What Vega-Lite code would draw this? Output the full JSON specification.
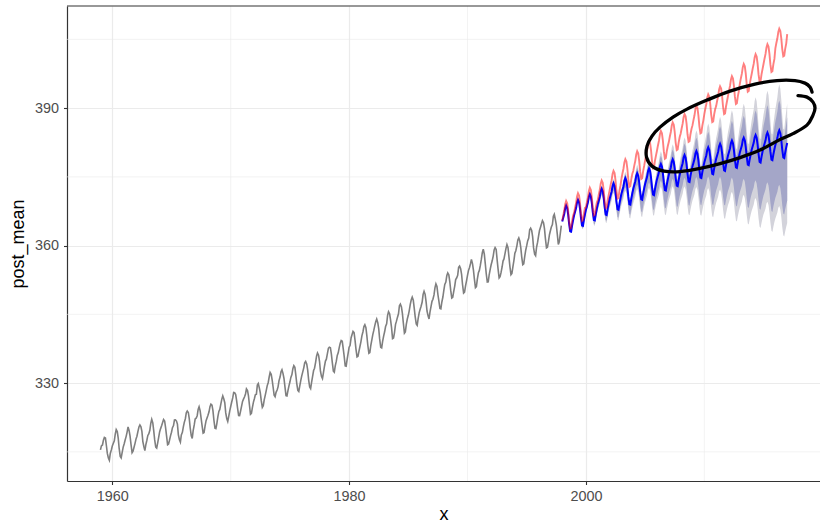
{
  "$schema": "https://vega.github.io/schema/vega-lite/v6.json",
  "usermeta": {"embedOptions": {"actions": false}},
  "width": 753,
  "height": 475,
  "autosize": {"type": "none"},
  "padding": {"left": 67, "top": 6, "right": 0, "bottom": 44},
  "background": "#ffffff",
  "config": {"view": {"stroke": null}, "font": "Liberation Sans"},
  "resolve": {"axis": {"x": "independent", "y": "independent"}},
  "datasets": {
    "gridx": [{"g": 1970}, {"g": 1990}, {"g": 2010}],
    "gridy": [{"g": 315}, {"g": 345}, {"g": 375}, {"g": 405}],
    "ell": [
      {"o":1,"x":2017.91,"y":392.73},{"o":2,"x":2018.67,"y":392.40},{"o":3,"x":2019.18,"y":391.31},{"o":4,"x":2019.35,"y":390.00},
      {"o":5,"x":2019.18,"y":388.47},{"o":6,"x":2018.67,"y":386.29},{"o":7,"x":2017.49,"y":384.44},{"o":8,"x":2016.22,"y":382.91},
      {"o":9,"x":2014.70,"y":380.84},{"o":10,"x":2013.02,"y":379.20},{"o":11,"x":2011.33,"y":377.89},{"o":12,"x":2009.64,"y":376.84},
      {"o":13,"x":2007.95,"y":376.14},{"o":14,"x":2006.60,"y":376.25},{"o":15,"x":2005.58,"y":377.34},{"o":16,"x":2005.12,"y":379.31},
      {"o":17,"x":2005.16,"y":381.71},{"o":18,"x":2005.58,"y":383.89},{"o":19,"x":2006.26,"y":385.85},{"o":20,"x":2007.36,"y":388.04},
      {"o":21,"x":2008.54,"y":389.78},{"o":22,"x":2010.23,"y":391.75},{"o":23,"x":2012.17,"y":393.71},{"o":24,"x":2014.28,"y":395.24},
      {"o":25,"x":2016.14,"y":396.00},{"o":26,"x":2017.66,"y":396.00},{"o":27,"x":2018.50,"y":395.45},{"o":28,"x":2018.93,"y":394.58},
      {"o":29,"x":2019.10,"y":393.49}
    ],
    "co2": [
      {"x":1959.00,"v":315.42},{"x":1959.08,"v":316.31},{"x":1959.17,"v":316.50},{"x":1959.25,"v":317.56},{"x":1959.33,"v":318.13},{"x":1959.42,"v":318.00},{"x":1959.50,"v":316.39},{"x":1959.58,"v":314.65},{"x":1959.67,"v":313.68},{"x":1959.75,"v":313.18},{"x":1959.83,"v":314.66},{"x":1959.92,"v":315.43},
      {"x":1960.00,"v":316.27},{"x":1960.08,"v":316.81},{"x":1960.17,"v":317.42},{"x":1960.25,"v":318.87},{"x":1960.33,"v":319.87},{"x":1960.42,"v":319.43},{"x":1960.50,"v":318.01},{"x":1960.58,"v":315.74},{"x":1960.67,"v":314.00},{"x":1960.75,"v":313.68},{"x":1960.83,"v":314.84},{"x":1960.92,"v":316.03},
      {"x":1961.00,"v":316.73},{"x":1961.08,"v":317.54},{"x":1961.17,"v":318.38},{"x":1961.25,"v":319.31},{"x":1961.33,"v":320.42},{"x":1961.42,"v":319.61},{"x":1961.50,"v":318.42},{"x":1961.58,"v":316.63},{"x":1961.67,"v":314.83},{"x":1961.75,"v":315.16},{"x":1961.83,"v":315.94},{"x":1961.92,"v":316.85},
      {"x":1962.00,"v":317.78},{"x":1962.08,"v":318.40},{"x":1962.17,"v":319.53},{"x":1962.25,"v":320.42},{"x":1962.33,"v":320.85},{"x":1962.42,"v":320.45},{"x":1962.50,"v":319.45},{"x":1962.58,"v":317.25},{"x":1962.67,"v":316.11},{"x":1962.75,"v":315.27},{"x":1962.83,"v":316.53},{"x":1962.92,"v":317.53},
      {"x":1963.00,"v":318.58},{"x":1963.08,"v":318.92},{"x":1963.17,"v":319.70},{"x":1963.25,"v":321.22},{"x":1963.33,"v":322.08},{"x":1963.42,"v":321.31},{"x":1963.50,"v":319.58},{"x":1963.58,"v":317.61},{"x":1963.67,"v":316.05},{"x":1963.75,"v":315.83},{"x":1963.83,"v":316.91},{"x":1963.92,"v":318.20},
      {"x":1964.00,"v":319.41},{"x":1964.08,"v":320.07},{"x":1964.17,"v":320.74},{"x":1964.25,"v":321.40},{"x":1964.33,"v":322.06},{"x":1964.42,"v":321.73},{"x":1964.50,"v":320.27},{"x":1964.58,"v":318.54},{"x":1964.67,"v":316.54},{"x":1964.75,"v":316.71},{"x":1964.83,"v":317.53},{"x":1964.92,"v":318.55},
      {"x":1965.00,"v":319.27},{"x":1965.08,"v":320.28},{"x":1965.17,"v":320.73},{"x":1965.25,"v":321.97},{"x":1965.33,"v":322.00},{"x":1965.42,"v":321.71},{"x":1965.50,"v":321.05},{"x":1965.58,"v":318.71},{"x":1965.67,"v":317.66},{"x":1965.75,"v":317.14},{"x":1965.83,"v":318.70},{"x":1965.92,"v":319.25},
      {"x":1966.00,"v":320.46},{"x":1966.08,"v":321.43},{"x":1966.17,"v":322.23},{"x":1966.25,"v":323.54},{"x":1966.33,"v":323.91},{"x":1966.42,"v":323.59},{"x":1966.50,"v":322.24},{"x":1966.58,"v":320.20},{"x":1966.67,"v":318.48},{"x":1966.75,"v":317.94},{"x":1966.83,"v":319.63},{"x":1966.92,"v":320.87},
      {"x":1967.00,"v":322.17},{"x":1967.08,"v":322.34},{"x":1967.17,"v":322.88},{"x":1967.25,"v":324.25},{"x":1967.33,"v":324.83},{"x":1967.42,"v":323.93},{"x":1967.50,"v":322.38},{"x":1967.58,"v":320.76},{"x":1967.67,"v":319.10},{"x":1967.75,"v":319.24},{"x":1967.83,"v":320.56},{"x":1967.92,"v":321.80},
      {"x":1968.00,"v":322.40},{"x":1968.08,"v":322.99},{"x":1968.17,"v":323.73},{"x":1968.25,"v":324.86},{"x":1968.33,"v":325.40},{"x":1968.42,"v":325.20},{"x":1968.50,"v":323.98},{"x":1968.58,"v":321.95},{"x":1968.67,"v":320.18},{"x":1968.75,"v":320.09},{"x":1968.83,"v":321.16},{"x":1968.92,"v":322.74},
      {"x":1969.00,"v":323.83},{"x":1969.08,"v":324.26},{"x":1969.17,"v":325.47},{"x":1969.25,"v":326.50},{"x":1969.33,"v":327.21},{"x":1969.42,"v":326.54},{"x":1969.50,"v":325.72},{"x":1969.58,"v":323.50},{"x":1969.67,"v":322.22},{"x":1969.75,"v":321.62},{"x":1969.83,"v":322.69},{"x":1969.92,"v":323.95},
      {"x":1970.00,"v":324.89},{"x":1970.08,"v":325.82},{"x":1970.17,"v":326.77},{"x":1970.25,"v":327.97},{"x":1970.33,"v":327.91},{"x":1970.42,"v":327.50},{"x":1970.50,"v":326.18},{"x":1970.58,"v":324.53},{"x":1970.67,"v":322.93},{"x":1970.75,"v":322.90},{"x":1970.83,"v":323.85},{"x":1970.92,"v":324.96},
      {"x":1971.00,"v":326.01},{"x":1971.08,"v":326.51},{"x":1971.17,"v":327.01},{"x":1971.25,"v":327.62},{"x":1971.33,"v":328.76},{"x":1971.42,"v":328.40},{"x":1971.50,"v":327.20},{"x":1971.58,"v":325.27},{"x":1971.67,"v":323.20},{"x":1971.75,"v":323.40},{"x":1971.83,"v":324.63},{"x":1971.92,"v":325.85},
      {"x":1972.00,"v":326.60},{"x":1972.08,"v":327.47},{"x":1972.17,"v":327.58},{"x":1972.25,"v":329.56},{"x":1972.33,"v":329.90},{"x":1972.42,"v":328.92},{"x":1972.50,"v":327.88},{"x":1972.58,"v":326.16},{"x":1972.67,"v":324.68},{"x":1972.75,"v":325.04},{"x":1972.83,"v":326.34},{"x":1972.92,"v":327.39},
      {"x":1973.00,"v":328.37},{"x":1973.08,"v":329.40},{"x":1973.17,"v":330.14},{"x":1973.25,"v":331.33},{"x":1973.33,"v":332.31},{"x":1973.42,"v":331.90},{"x":1973.50,"v":330.70},{"x":1973.58,"v":329.15},{"x":1973.67,"v":327.35},{"x":1973.75,"v":327.02},{"x":1973.83,"v":327.99},{"x":1973.92,"v":328.48},
      {"x":1974.00,"v":329.18},{"x":1974.08,"v":330.55},{"x":1974.17,"v":331.32},{"x":1974.25,"v":332.48},{"x":1974.33,"v":332.92},{"x":1974.42,"v":332.08},{"x":1974.50,"v":331.01},{"x":1974.58,"v":329.23},{"x":1974.67,"v":327.27},{"x":1974.75,"v":327.21},{"x":1974.83,"v":328.29},{"x":1974.92,"v":329.41},
      {"x":1975.00,"v":330.23},{"x":1975.08,"v":331.25},{"x":1975.17,"v":331.87},{"x":1975.25,"v":333.14},{"x":1975.33,"v":333.80},{"x":1975.42,"v":333.43},{"x":1975.50,"v":331.73},{"x":1975.58,"v":329.90},{"x":1975.67,"v":328.40},{"x":1975.75,"v":328.17},{"x":1975.83,"v":329.32},{"x":1975.92,"v":330.59},
      {"x":1976.00,"v":331.58},{"x":1976.08,"v":332.39},{"x":1976.17,"v":333.33},{"x":1976.25,"v":334.41},{"x":1976.33,"v":334.71},{"x":1976.42,"v":334.17},{"x":1976.50,"v":332.89},{"x":1976.58,"v":330.77},{"x":1976.67,"v":329.14},{"x":1976.75,"v":328.78},{"x":1976.83,"v":330.14},{"x":1976.92,"v":331.52},
      {"x":1977.00,"v":332.75},{"x":1977.08,"v":333.24},{"x":1977.17,"v":334.53},{"x":1977.25,"v":335.90},{"x":1977.33,"v":336.57},{"x":1977.42,"v":336.10},{"x":1977.50,"v":334.76},{"x":1977.58,"v":332.59},{"x":1977.67,"v":331.42},{"x":1977.75,"v":330.98},{"x":1977.83,"v":332.24},{"x":1977.92,"v":333.68},
      {"x":1978.00,"v":334.80},{"x":1978.08,"v":335.22},{"x":1978.17,"v":336.47},{"x":1978.25,"v":337.59},{"x":1978.33,"v":337.84},{"x":1978.42,"v":337.72},{"x":1978.50,"v":336.37},{"x":1978.58,"v":334.51},{"x":1978.67,"v":332.60},{"x":1978.75,"v":332.38},{"x":1978.83,"v":333.75},{"x":1978.92,"v":334.78},
      {"x":1979.00,"v":336.05},{"x":1979.08,"v":336.59},{"x":1979.17,"v":337.79},{"x":1979.25,"v":338.71},{"x":1979.33,"v":339.30},{"x":1979.42,"v":339.12},{"x":1979.50,"v":337.56},{"x":1979.58,"v":335.92},{"x":1979.67,"v":333.75},{"x":1979.75,"v":333.70},{"x":1979.83,"v":335.12},{"x":1979.92,"v":336.56},
      {"x":1980.00,"v":337.84},{"x":1980.08,"v":338.19},{"x":1980.17,"v":339.91},{"x":1980.25,"v":340.60},{"x":1980.33,"v":341.29},{"x":1980.42,"v":341.00},{"x":1980.50,"v":339.39},{"x":1980.58,"v":337.43},{"x":1980.67,"v":335.72},{"x":1980.75,"v":335.84},{"x":1980.83,"v":336.93},{"x":1980.92,"v":338.04},
      {"x":1981.00,"v":339.06},{"x":1981.08,"v":340.30},{"x":1981.17,"v":341.21},{"x":1981.25,"v":342.33},{"x":1981.33,"v":342.74},{"x":1981.42,"v":342.08},{"x":1981.50,"v":340.32},{"x":1981.58,"v":338.26},{"x":1981.67,"v":336.52},{"x":1981.75,"v":336.68},{"x":1981.83,"v":338.19},{"x":1981.92,"v":339.44},
      {"x":1982.00,"v":340.57},{"x":1982.08,"v":341.44},{"x":1982.17,"v":342.53},{"x":1982.25,"v":343.39},{"x":1982.33,"v":343.96},{"x":1982.42,"v":343.18},{"x":1982.50,"v":341.88},{"x":1982.58,"v":339.65},{"x":1982.67,"v":337.81},{"x":1982.75,"v":337.69},{"x":1982.83,"v":339.09},{"x":1982.92,"v":340.32},
      {"x":1983.00,"v":341.20},{"x":1983.08,"v":342.35},{"x":1983.17,"v":342.93},{"x":1983.25,"v":344.77},{"x":1983.33,"v":345.58},{"x":1983.42,"v":345.14},{"x":1983.50,"v":343.81},{"x":1983.58,"v":342.21},{"x":1983.67,"v":339.69},{"x":1983.75,"v":339.82},{"x":1983.83,"v":340.98},{"x":1983.92,"v":342.82},
      {"x":1984.00,"v":343.52},{"x":1984.08,"v":344.33},{"x":1984.17,"v":345.11},{"x":1984.25,"v":346.88},{"x":1984.33,"v":347.25},{"x":1984.42,"v":346.62},{"x":1984.50,"v":345.22},{"x":1984.58,"v":343.11},{"x":1984.67,"v":340.90},{"x":1984.75,"v":341.18},{"x":1984.83,"v":342.80},{"x":1984.92,"v":344.04},
      {"x":1985.00,"v":344.79},{"x":1985.08,"v":345.82},{"x":1985.17,"v":347.25},{"x":1985.25,"v":348.17},{"x":1985.33,"v":348.74},{"x":1985.42,"v":348.07},{"x":1985.50,"v":346.38},{"x":1985.58,"v":344.51},{"x":1985.67,"v":342.92},{"x":1985.75,"v":342.62},{"x":1985.83,"v":344.06},{"x":1985.92,"v":345.38},
      {"x":1986.00,"v":346.11},{"x":1986.08,"v":346.78},{"x":1986.17,"v":347.68},{"x":1986.25,"v":349.37},{"x":1986.33,"v":350.03},{"x":1986.42,"v":349.37},{"x":1986.50,"v":347.76},{"x":1986.58,"v":345.73},{"x":1986.67,"v":344.68},{"x":1986.75,"v":343.99},{"x":1986.83,"v":345.48},{"x":1986.92,"v":346.72},
      {"x":1987.00,"v":347.84},{"x":1987.08,"v":348.29},{"x":1987.17,"v":349.23},{"x":1987.25,"v":350.80},{"x":1987.33,"v":351.66},{"x":1987.42,"v":351.07},{"x":1987.50,"v":349.33},{"x":1987.58,"v":347.92},{"x":1987.67,"v":346.27},{"x":1987.75,"v":346.18},{"x":1987.83,"v":347.64},{"x":1987.92,"v":348.78},
      {"x":1988.00,"v":350.25},{"x":1988.08,"v":351.54},{"x":1988.17,"v":352.05},{"x":1988.25,"v":353.41},{"x":1988.33,"v":354.04},{"x":1988.42,"v":353.62},{"x":1988.50,"v":352.22},{"x":1988.58,"v":350.27},{"x":1988.67,"v":348.55},{"x":1988.75,"v":348.72},{"x":1988.83,"v":349.91},{"x":1988.92,"v":351.18},
      {"x":1989.00,"v":352.60},{"x":1989.08,"v":352.92},{"x":1989.17,"v":353.53},{"x":1989.25,"v":355.26},{"x":1989.33,"v":355.52},{"x":1989.42,"v":354.97},{"x":1989.50,"v":353.75},{"x":1989.58,"v":351.52},{"x":1989.67,"v":349.64},{"x":1989.75,"v":349.83},{"x":1989.83,"v":351.14},{"x":1989.92,"v":352.37},
      {"x":1990.00,"v":353.50},{"x":1990.08,"v":354.55},{"x":1990.17,"v":355.23},{"x":1990.25,"v":356.04},{"x":1990.33,"v":357.00},{"x":1990.42,"v":356.07},{"x":1990.50,"v":354.67},{"x":1990.58,"v":352.76},{"x":1990.67,"v":350.82},{"x":1990.75,"v":351.04},{"x":1990.83,"v":352.69},{"x":1990.92,"v":354.07},
      {"x":1991.00,"v":354.59},{"x":1991.08,"v":355.63},{"x":1991.17,"v":357.03},{"x":1991.25,"v":358.48},{"x":1991.33,"v":359.22},{"x":1991.42,"v":358.12},{"x":1991.50,"v":356.06},{"x":1991.58,"v":353.92},{"x":1991.67,"v":352.05},{"x":1991.75,"v":352.11},{"x":1991.83,"v":353.64},{"x":1991.92,"v":354.89},
      {"x":1992.00,"v":355.88},{"x":1992.08,"v":356.63},{"x":1992.17,"v":357.72},{"x":1992.25,"v":359.07},{"x":1992.33,"v":359.58},{"x":1992.42,"v":359.17},{"x":1992.50,"v":356.94},{"x":1992.58,"v":354.92},{"x":1992.67,"v":352.94},{"x":1992.75,"v":353.23},{"x":1992.83,"v":354.09},{"x":1992.92,"v":355.33},
      {"x":1993.00,"v":356.63},{"x":1993.08,"v":357.10},{"x":1993.17,"v":358.32},{"x":1993.25,"v":359.41},{"x":1993.33,"v":360.23},{"x":1993.42,"v":359.55},{"x":1993.50,"v":357.53},{"x":1993.58,"v":355.48},{"x":1993.67,"v":353.67},{"x":1993.75,"v":353.95},{"x":1993.83,"v":355.30},{"x":1993.92,"v":356.78},
      {"x":1994.00,"v":358.34},{"x":1994.08,"v":358.89},{"x":1994.17,"v":359.95},{"x":1994.25,"v":361.25},{"x":1994.33,"v":361.67},{"x":1994.42,"v":360.94},{"x":1994.50,"v":359.55},{"x":1994.58,"v":357.49},{"x":1994.67,"v":355.84},{"x":1994.75,"v":356.00},{"x":1994.83,"v":357.59},{"x":1994.92,"v":359.05},
      {"x":1995.00,"v":359.98},{"x":1995.08,"v":361.03},{"x":1995.17,"v":361.66},{"x":1995.25,"v":363.48},{"x":1995.33,"v":363.82},{"x":1995.42,"v":363.30},{"x":1995.50,"v":361.94},{"x":1995.58,"v":359.50},{"x":1995.67,"v":358.11},{"x":1995.75,"v":357.80},{"x":1995.83,"v":359.61},{"x":1995.92,"v":360.74},
      {"x":1996.00,"v":362.09},{"x":1996.08,"v":363.29},{"x":1996.17,"v":364.06},{"x":1996.25,"v":364.76},{"x":1996.33,"v":365.45},{"x":1996.42,"v":365.01},{"x":1996.50,"v":363.70},{"x":1996.58,"v":361.54},{"x":1996.67,"v":359.51},{"x":1996.75,"v":359.65},{"x":1996.83,"v":360.80},{"x":1996.92,"v":362.38},
      {"x":1997.00,"v":363.23},{"x":1997.08,"v":364.06},{"x":1997.17,"v":364.61},{"x":1997.25,"v":366.40},{"x":1997.33,"v":366.84},{"x":1997.42,"v":365.68},{"x":1997.50,"v":364.52},{"x":1997.58,"v":362.57},{"x":1997.67,"v":360.24},{"x":1997.75,"v":360.83},{"x":1997.83,"v":362.49},{"x":1997.92,"v":364.34}
    ],
    "fc": [
      {"x":1998.00,"mean":365.25,"lo":365.25,"hi":365.25,"lo2":365.25,"hi2":365.25,"obs":365.45},
      {"x":1998.08,"mean":366.02,"lo":365.99,"hi":366.03,"lo2":366.00,"hi2":366.03,"obs":366.55},
      {"x":1998.17,"mean":366.90,"lo":366.84,"hi":366.93,"lo2":366.86,"hi2":366.92,"obs":367.65},
      {"x":1998.25,"mean":368.15,"lo":368.05,"hi":368.19,"lo2":368.08,"hi2":368.18,"obs":369.05},
      {"x":1998.33,"mean":368.73,"lo":368.60,"hi":368.79,"lo2":368.64,"hi2":368.77,"obs":369.75},
      {"x":1998.42,"mean":368.18,"lo":368.02,"hi":368.25,"lo2":368.06,"hi2":368.23,"obs":369.25},
      {"x":1998.50,"mean":366.77,"lo":366.58,"hi":366.84,"lo2":366.63,"hi2":366.82,"obs":367.65},
      {"x":1998.58,"mean":364.81,"lo":364.59,"hi":364.88,"lo2":364.65,"hi2":364.86,"obs":365.35},
      {"x":1998.67,"mean":363.11,"lo":362.86,"hi":363.18,"lo2":362.93,"hi2":363.16,"obs":363.70},
      {"x":1998.75,"mean":363.04,"lo":362.75,"hi":363.12,"lo2":362.83,"hi2":363.09,"obs":363.85},
      {"x":1998.83,"mean":364.33,"lo":364.01,"hi":364.43,"lo2":364.10,"hi2":364.40,"obs":365.35},
      {"x":1998.92,"mean":365.56,"lo":365.21,"hi":365.68,"lo2":365.31,"hi2":365.64,"obs":366.55},
      {"x":1999.00,"mean":366.55,"lo":366.17,"hi":366.69,"lo2":366.28,"hi2":366.64,"obs":367.13},
      {"x":1999.08,"mean":367.31,"lo":366.89,"hi":367.47,"lo2":367.01,"hi2":367.41,"obs":368.23},
      {"x":1999.17,"mean":368.19,"lo":367.74,"hi":368.38,"lo2":367.87,"hi2":368.31,"obs":369.33},
      {"x":1999.25,"mean":369.43,"lo":368.94,"hi":369.65,"lo2":369.08,"hi2":369.57,"obs":370.73},
      {"x":1999.33,"mean":370.02,"lo":369.49,"hi":370.26,"lo2":369.64,"hi2":370.18,"obs":371.43},
      {"x":1999.42,"mean":369.46,"lo":368.90,"hi":369.71,"lo2":369.06,"hi2":369.62,"obs":370.93},
      {"x":1999.50,"mean":368.05,"lo":367.45,"hi":368.29,"lo2":367.62,"hi2":368.21,"obs":369.33},
      {"x":1999.58,"mean":366.08,"lo":365.44,"hi":366.29,"lo2":365.62,"hi2":366.22,"obs":367.03},
      {"x":1999.67,"mean":364.37,"lo":363.70,"hi":364.56,"lo2":363.89,"hi2":364.49,"obs":365.38},
      {"x":1999.75,"mean":364.30,"lo":363.59,"hi":364.50,"lo2":363.79,"hi2":364.43,"obs":365.53},
      {"x":1999.83,"mean":365.59,"lo":364.84,"hi":365.83,"lo2":365.05,"hi2":365.75,"obs":367.03},
      {"x":1999.92,"mean":366.82,"lo":366.04,"hi":367.09,"lo2":366.26,"hi2":367.00,"obs":368.23},
      {"x":2000.00,"mean":367.80,"lo":366.98,"hi":368.11,"lo2":367.21,"hi2":368.00,"obs":368.32},
      {"x":2000.08,"mean":368.56,"lo":367.70,"hi":368.90,"lo2":367.94,"hi2":368.78,"obs":369.42},
      {"x":2000.17,"mean":369.43,"lo":368.53,"hi":369.81,"lo2":368.78,"hi2":369.68,"obs":370.52},
      {"x":2000.25,"mean":370.67,"lo":369.72,"hi":371.10,"lo2":369.99,"hi2":370.95,"obs":371.92},
      {"x":2000.33,"mean":371.25,"lo":370.26,"hi":371.72,"lo2":370.54,"hi2":371.56,"obs":372.62},
      {"x":2000.42,"mean":370.69,"lo":369.66,"hi":371.16,"lo2":369.95,"hi2":371.00,"obs":372.12},
      {"x":2000.50,"mean":369.27,"lo":368.20,"hi":369.71,"lo2":368.50,"hi2":369.56,"obs":370.52},
      {"x":2000.58,"mean":367.30,"lo":366.19,"hi":367.69,"lo2":366.50,"hi2":367.55,"obs":368.22},
      {"x":2000.67,"mean":365.59,"lo":364.44,"hi":365.93,"lo2":364.76,"hi2":365.81,"obs":366.57},
      {"x":2000.75,"mean":365.51,"lo":364.31,"hi":365.85,"lo2":364.65,"hi2":365.73,"obs":366.72},
      {"x":2000.83,"mean":366.80,"lo":365.56,"hi":367.21,"lo2":365.91,"hi2":367.07,"obs":368.22},
      {"x":2000.92,"mean":368.02,"lo":366.74,"hi":368.48,"lo2":367.10,"hi2":368.32,"obs":369.42},
      {"x":2001.00,"mean":369.00,"lo":367.68,"hi":369.52,"lo2":368.05,"hi2":369.34,"obs":369.93},
      {"x":2001.08,"mean":369.76,"lo":368.39,"hi":370.33,"lo2":368.77,"hi2":370.13,"obs":371.03},
      {"x":2001.17,"mean":370.62,"lo":369.21,"hi":371.24,"lo2":369.60,"hi2":371.02,"obs":372.13},
      {"x":2001.25,"mean":371.86,"lo":370.40,"hi":372.56,"lo2":370.81,"hi2":372.32,"obs":373.53},
      {"x":2001.33,"mean":372.43,"lo":370.92,"hi":373.17,"lo2":371.34,"hi2":372.91,"obs":374.23},
      {"x":2001.42,"mean":371.87,"lo":370.32,"hi":372.61,"lo2":370.75,"hi2":372.35,"obs":373.73},
      {"x":2001.50,"mean":370.45,"lo":368.85,"hi":371.13,"lo2":369.30,"hi2":370.89,"obs":372.13},
      {"x":2001.58,"mean":368.47,"lo":366.82,"hi":369.06,"lo2":367.28,"hi2":368.85,"obs":369.83},
      {"x":2001.67,"mean":366.76,"lo":365.07,"hi":367.27,"lo2":365.54,"hi2":367.09,"obs":368.18},
      {"x":2001.75,"mean":366.67,"lo":364.93,"hi":367.19,"lo2":365.42,"hi2":367.01,"obs":368.33},
      {"x":2001.83,"mean":367.96,"lo":366.17,"hi":368.56,"lo2":366.67,"hi2":368.35,"obs":369.83},
      {"x":2001.92,"mean":369.17,"lo":367.34,"hi":369.86,"lo2":367.85,"hi2":369.62,"obs":371.03},
      {"x":2002.00,"mean":370.15,"lo":368.27,"hi":370.91,"lo2":368.80,"hi2":370.64,"obs":372.02},
      {"x":2002.08,"mean":370.91,"lo":368.98,"hi":371.73,"lo2":369.52,"hi2":371.44,"obs":373.12},
      {"x":2002.17,"mean":371.77,"lo":369.79,"hi":372.67,"lo2":370.34,"hi2":372.36,"obs":374.22},
      {"x":2002.25,"mean":373.01,"lo":370.97,"hi":374.01,"lo2":371.54,"hi2":373.66,"obs":375.62},
      {"x":2002.33,"mean":373.58,"lo":371.49,"hi":374.64,"lo2":372.08,"hi2":374.27,"obs":376.32},
      {"x":2002.42,"mean":373.02,"lo":370.88,"hi":374.06,"lo2":371.48,"hi2":373.70,"obs":375.82},
      {"x":2002.50,"mean":371.60,"lo":369.41,"hi":372.56,"lo2":370.02,"hi2":372.22,"obs":374.22},
      {"x":2002.58,"mean":369.62,"lo":367.38,"hi":370.45,"lo2":368.01,"hi2":370.16,"obs":371.92},
      {"x":2002.67,"mean":367.91,"lo":365.62,"hi":368.62,"lo2":366.26,"hi2":368.37,"obs":370.27},
      {"x":2002.75,"mean":367.82,"lo":365.47,"hi":368.54,"lo2":366.13,"hi2":368.29,"obs":370.42},
      {"x":2002.83,"mean":369.11,"lo":366.71,"hi":369.94,"lo2":367.38,"hi2":369.65,"obs":371.92},
      {"x":2002.92,"mean":370.32,"lo":367.87,"hi":371.26,"lo2":368.56,"hi2":370.93,"obs":373.12},
      {"x":2003.00,"mean":371.30,"lo":368.80,"hi":372.34,"lo2":369.50,"hi2":371.98,"obs":374.57},
      {"x":2003.08,"mean":372.05,"lo":369.49,"hi":373.17,"lo2":370.21,"hi2":372.78,"obs":375.67},
      {"x":2003.17,"mean":372.91,"lo":370.30,"hi":374.12,"lo2":371.03,"hi2":373.70,"obs":376.77},
      {"x":2003.25,"mean":374.15,"lo":371.48,"hi":375.49,"lo2":372.23,"hi2":375.02,"obs":378.17},
      {"x":2003.33,"mean":374.72,"lo":371.99,"hi":376.14,"lo2":372.75,"hi2":375.64,"obs":378.87},
      {"x":2003.42,"mean":374.15,"lo":371.37,"hi":375.54,"lo2":372.15,"hi2":375.05,"obs":378.37},
      {"x":2003.50,"mean":372.72,"lo":369.88,"hi":373.99,"lo2":370.68,"hi2":373.55,"obs":376.77},
      {"x":2003.58,"mean":370.74,"lo":367.84,"hi":371.84,"lo2":368.65,"hi2":371.46,"obs":374.47},
      {"x":2003.67,"mean":369.02,"lo":366.07,"hi":369.96,"lo2":366.90,"hi2":369.63,"obs":372.82},
      {"x":2003.75,"mean":368.94,"lo":365.93,"hi":369.88,"lo2":366.77,"hi2":369.55,"obs":372.97},
      {"x":2003.83,"mean":370.22,"lo":367.15,"hi":371.31,"lo2":368.01,"hi2":370.93,"obs":374.47},
      {"x":2003.92,"mean":371.43,"lo":368.31,"hi":372.66,"lo2":369.18,"hi2":372.23,"obs":375.67},
      {"x":2004.00,"mean":372.40,"lo":369.22,"hi":373.75,"lo2":370.11,"hi2":373.28,"obs":376.29},
      {"x":2004.08,"mean":373.15,"lo":369.91,"hi":374.60,"lo2":370.82,"hi2":374.09,"obs":377.39},
      {"x":2004.17,"mean":374.01,"lo":370.71,"hi":375.58,"lo2":371.63,"hi2":375.03,"obs":378.49},
      {"x":2004.25,"mean":375.23,"lo":371.86,"hi":376.96,"lo2":372.80,"hi2":376.35,"obs":379.89},
      {"x":2004.33,"mean":375.80,"lo":372.37,"hi":377.62,"lo2":373.33,"hi2":376.98,"obs":380.59},
      {"x":2004.42,"mean":375.23,"lo":371.74,"hi":377.01,"lo2":372.72,"hi2":376.39,"obs":380.09},
      {"x":2004.50,"mean":373.80,"lo":370.25,"hi":375.42,"lo2":371.24,"hi2":374.85,"obs":378.49},
      {"x":2004.58,"mean":371.81,"lo":368.20,"hi":373.21,"lo2":369.21,"hi2":372.72,"obs":376.19},
      {"x":2004.67,"mean":370.09,"lo":366.42,"hi":371.28,"lo2":367.45,"hi2":370.86,"obs":374.54},
      {"x":2004.75,"mean":370.00,"lo":366.26,"hi":371.19,"lo2":367.31,"hi2":370.77,"obs":374.69},
      {"x":2004.83,"mean":371.28,"lo":367.48,"hi":372.66,"lo2":368.54,"hi2":372.18,"obs":376.19},
      {"x":2004.92,"mean":372.48,"lo":368.62,"hi":374.03,"lo2":369.70,"hi2":373.49,"obs":377.39},
      {"x":2005.00,"mean":373.45,"lo":369.53,"hi":375.15,"lo2":370.63,"hi2":374.56,"obs":378.60},
      {"x":2005.08,"mean":374.19,"lo":370.20,"hi":376.01,"lo2":371.32,"hi2":375.37,"obs":379.70},
      {"x":2005.17,"mean":375.05,"lo":371.00,"hi":377.02,"lo2":372.13,"hi2":376.33,"obs":380.80},
      {"x":2005.25,"mean":376.27,"lo":372.15,"hi":378.43,"lo2":373.30,"hi2":377.67,"obs":382.20},
      {"x":2005.33,"mean":376.83,"lo":372.64,"hi":379.10,"lo2":373.81,"hi2":378.31,"obs":382.90},
      {"x":2005.42,"mean":376.26,"lo":372.01,"hi":378.47,"lo2":373.20,"hi2":377.70,"obs":382.40},
      {"x":2005.50,"mean":374.82,"lo":370.50,"hi":376.83,"lo2":371.71,"hi2":376.13,"obs":380.80},
      {"x":2005.58,"mean":372.83,"lo":368.44,"hi":374.56,"lo2":369.67,"hi2":373.95,"obs":378.50},
      {"x":2005.67,"mean":371.11,"lo":366.66,"hi":372.58,"lo2":367.91,"hi2":372.07,"obs":376.85},
      {"x":2005.75,"mean":371.01,"lo":366.49,"hi":372.48,"lo2":367.76,"hi2":371.97,"obs":377.00},
      {"x":2005.83,"mean":372.28,"lo":367.69,"hi":373.97,"lo2":368.98,"hi2":373.38,"obs":378.50},
      {"x":2005.92,"mean":373.49,"lo":368.84,"hi":375.39,"lo2":370.14,"hi2":374.73,"obs":379.70},
      {"x":2006.00,"mean":374.45,"lo":369.73,"hi":376.54,"lo2":371.05,"hi2":375.81,"obs":380.70},
      {"x":2006.08,"mean":375.19,"lo":370.40,"hi":377.42,"lo2":371.74,"hi2":376.64,"obs":381.80},
      {"x":2006.17,"mean":376.05,"lo":371.19,"hi":378.45,"lo2":372.55,"hi2":377.61,"obs":382.90},
      {"x":2006.25,"mean":377.27,"lo":372.33,"hi":379.90,"lo2":373.71,"hi2":378.98,"obs":384.30},
      {"x":2006.33,"mean":377.83,"lo":372.82,"hi":380.59,"lo2":374.22,"hi2":379.62,"obs":385.00},
      {"x":2006.42,"mean":377.26,"lo":372.18,"hi":379.94,"lo2":373.60,"hi2":379.00,"obs":384.50},
      {"x":2006.50,"mean":375.82,"lo":370.67,"hi":378.26,"lo2":372.11,"hi2":377.41,"obs":382.90},
      {"x":2006.58,"mean":373.83,"lo":368.61,"hi":375.93,"lo2":370.07,"hi2":375.20,"obs":380.60},
      {"x":2006.67,"mean":372.11,"lo":366.82,"hi":373.88,"lo2":368.30,"hi2":373.26,"obs":378.95},
      {"x":2006.75,"mean":372.01,"lo":366.64,"hi":373.78,"lo2":368.14,"hi2":373.16,"obs":379.10},
      {"x":2006.83,"mean":373.28,"lo":367.84,"hi":375.32,"lo2":369.36,"hi2":374.61,"obs":380.60},
      {"x":2006.92,"mean":374.49,"lo":368.98,"hi":376.78,"lo2":370.52,"hi2":375.98,"obs":381.80},
      {"x":2007.00,"mean":375.45,"lo":369.87,"hi":377.96,"lo2":371.43,"hi2":377.08,"obs":382.59},
      {"x":2007.08,"mean":376.19,"lo":370.53,"hi":378.86,"lo2":372.11,"hi2":377.93,"obs":383.69},
      {"x":2007.17,"mean":377.04,"lo":371.31,"hi":379.91,"lo2":372.91,"hi2":378.91,"obs":384.79},
      {"x":2007.25,"mean":378.26,"lo":372.45,"hi":381.40,"lo2":374.08,"hi2":380.30,"obs":386.19},
      {"x":2007.33,"mean":378.82,"lo":372.93,"hi":382.11,"lo2":374.58,"hi2":380.96,"obs":386.89},
      {"x":2007.42,"mean":378.24,"lo":372.28,"hi":381.44,"lo2":373.95,"hi2":380.32,"obs":386.39},
      {"x":2007.50,"mean":376.80,"lo":370.76,"hi":379.70,"lo2":372.45,"hi2":378.69,"obs":384.79},
      {"x":2007.58,"mean":374.80,"lo":368.68,"hi":377.29,"lo2":370.39,"hi2":376.42,"obs":382.49},
      {"x":2007.67,"mean":373.07,"lo":366.88,"hi":375.18,"lo2":368.61,"hi2":374.44,"obs":380.84},
      {"x":2007.75,"mean":372.97,"lo":366.70,"hi":375.07,"lo2":368.46,"hi2":374.34,"obs":380.99},
      {"x":2007.83,"mean":374.24,"lo":367.89,"hi":376.66,"lo2":369.67,"hi2":375.81,"obs":382.49},
      {"x":2007.92,"mean":375.44,"lo":369.02,"hi":378.14,"lo2":370.82,"hi2":377.20,"obs":383.69},
      {"x":2008.00,"mean":376.40,"lo":369.90,"hi":379.36,"lo2":371.72,"hi2":378.32,"obs":384.40},
      {"x":2008.08,"mean":377.14,"lo":370.56,"hi":380.29,"lo2":372.40,"hi2":379.19,"obs":385.50},
      {"x":2008.17,"mean":377.98,"lo":371.32,"hi":381.36,"lo2":373.18,"hi2":380.18,"obs":386.60},
      {"x":2008.25,"mean":379.20,"lo":372.45,"hi":382.90,"lo2":374.34,"hi2":381.61,"obs":388.00},
      {"x":2008.33,"mean":379.75,"lo":372.92,"hi":383.61,"lo2":374.83,"hi2":382.26,"obs":388.70},
      {"x":2008.42,"mean":379.17,"lo":372.26,"hi":382.93,"lo2":374.19,"hi2":381.61,"obs":388.20},
      {"x":2008.50,"mean":377.72,"lo":370.73,"hi":381.13,"lo2":372.69,"hi2":379.94,"obs":386.60},
      {"x":2008.58,"mean":375.73,"lo":368.66,"hi":378.65,"lo2":370.64,"hi2":377.63,"obs":384.30},
      {"x":2008.67,"mean":373.99,"lo":366.84,"hi":376.45,"lo2":368.84,"hi2":375.59,"obs":382.65},
      {"x":2008.75,"mean":373.89,"lo":366.65,"hi":376.34,"lo2":368.68,"hi2":375.48,"obs":382.80},
      {"x":2008.83,"mean":375.15,"lo":367.83,"hi":377.97,"lo2":369.88,"hi2":376.98,"obs":384.30},
      {"x":2008.92,"mean":376.35,"lo":368.95,"hi":379.50,"lo2":371.02,"hi2":378.40,"obs":385.50},
      {"x":2009.00,"mean":377.30,"lo":369.82,"hi":380.75,"lo2":371.91,"hi2":379.54,"obs":386.23},
      {"x":2009.08,"mean":378.03,"lo":370.46,"hi":381.70,"lo2":372.58,"hi2":380.42,"obs":387.33},
      {"x":2009.17,"mean":378.87,"lo":371.22,"hi":382.80,"lo2":373.36,"hi2":381.42,"obs":388.43},
      {"x":2009.25,"mean":380.08,"lo":372.34,"hi":384.38,"lo2":374.51,"hi2":382.88,"obs":389.83},
      {"x":2009.33,"mean":380.63,"lo":372.80,"hi":385.12,"lo2":374.99,"hi2":383.55,"obs":390.53},
      {"x":2009.42,"mean":380.04,"lo":372.13,"hi":384.40,"lo2":374.34,"hi2":382.87,"obs":390.03},
      {"x":2009.50,"mean":378.60,"lo":370.60,"hi":382.54,"lo2":372.84,"hi2":381.16,"obs":388.43},
      {"x":2009.58,"mean":376.60,"lo":368.51,"hi":379.98,"lo2":370.78,"hi2":378.80,"obs":386.13},
      {"x":2009.67,"mean":374.86,"lo":366.69,"hi":377.71,"lo2":368.98,"hi2":376.71,"obs":384.48},
      {"x":2009.75,"mean":374.75,"lo":366.49,"hi":377.58,"lo2":368.80,"hi2":376.59,"obs":384.63},
      {"x":2009.83,"mean":376.01,"lo":367.66,"hi":379.27,"lo2":370.00,"hi2":378.13,"obs":386.13},
      {"x":2009.92,"mean":377.20,"lo":368.77,"hi":380.84,"lo2":371.13,"hi2":379.57,"obs":387.33},
      {"x":2010.00,"mean":378.15,"lo":369.63,"hi":382.12,"lo2":372.02,"hi2":380.73,"obs":388.70},
      {"x":2010.08,"mean":378.88,"lo":370.27,"hi":383.10,"lo2":372.68,"hi2":381.62,"obs":389.80},
      {"x":2010.17,"mean":379.71,"lo":371.01,"hi":384.24,"lo2":373.45,"hi2":382.65,"obs":390.90},
      {"x":2010.25,"mean":380.92,"lo":372.12,"hi":385.86,"lo2":374.58,"hi2":384.13,"obs":392.30},
      {"x":2010.33,"mean":381.47,"lo":372.58,"hi":386.62,"lo2":375.07,"hi2":384.82,"obs":393.00},
      {"x":2010.42,"mean":380.87,"lo":371.89,"hi":385.87,"lo2":374.40,"hi2":384.12,"obs":392.50},
      {"x":2010.50,"mean":379.42,"lo":370.35,"hi":383.94,"lo2":372.89,"hi2":382.36,"obs":390.90},
      {"x":2010.58,"mean":377.42,"lo":368.26,"hi":381.29,"lo2":370.82,"hi2":379.94,"obs":388.60},
      {"x":2010.67,"mean":375.67,"lo":366.42,"hi":378.93,"lo2":369.01,"hi2":377.79,"obs":386.95},
      {"x":2010.75,"mean":375.56,"lo":366.21,"hi":378.80,"lo2":368.83,"hi2":377.67,"obs":387.10},
      {"x":2010.83,"mean":376.82,"lo":367.38,"hi":380.54,"lo2":370.02,"hi2":379.24,"obs":388.60},
      {"x":2010.92,"mean":378.00,"lo":368.47,"hi":382.15,"lo2":371.14,"hi2":380.70,"obs":389.80},
      {"x":2011.00,"mean":378.95,"lo":369.33,"hi":383.48,"lo2":372.02,"hi2":381.89,"obs":390.45},
      {"x":2011.08,"mean":379.67,"lo":369.95,"hi":384.48,"lo2":372.67,"hi2":382.80,"obs":391.55},
      {"x":2011.17,"mean":380.50,"lo":370.69,"hi":385.65,"lo2":373.44,"hi2":383.85,"obs":392.65},
      {"x":2011.25,"mean":381.70,"lo":371.79,"hi":387.32,"lo2":374.56,"hi2":385.35,"obs":394.05},
      {"x":2011.33,"mean":382.23,"lo":372.22,"hi":388.09,"lo2":375.02,"hi2":386.04,"obs":394.75},
      {"x":2011.42,"mean":381.63,"lo":371.53,"hi":387.31,"lo2":374.36,"hi2":385.32,"obs":394.25},
      {"x":2011.50,"mean":380.17,"lo":369.97,"hi":385.30,"lo2":372.83,"hi2":383.50,"obs":392.65},
      {"x":2011.58,"mean":378.16,"lo":367.86,"hi":382.55,"lo2":370.74,"hi2":381.01,"obs":390.35},
      {"x":2011.67,"mean":376.41,"lo":366.02,"hi":380.11,"lo2":368.93,"hi2":378.82,"obs":388.70},
      {"x":2011.75,"mean":376.29,"lo":365.80,"hi":379.96,"lo2":368.74,"hi2":378.68,"obs":388.85},
      {"x":2011.83,"mean":377.53,"lo":366.94,"hi":381.74,"lo2":369.91,"hi2":380.27,"obs":390.35},
      {"x":2011.92,"mean":378.71,"lo":368.03,"hi":383.41,"lo2":371.02,"hi2":381.77,"obs":391.55},
      {"x":2012.00,"mean":379.65,"lo":368.87,"hi":384.78,"lo2":371.89,"hi2":382.98,"obs":392.65},
      {"x":2012.08,"mean":380.36,"lo":369.48,"hi":385.80,"lo2":372.53,"hi2":383.90,"obs":393.75},
      {"x":2012.17,"mean":381.19,"lo":370.21,"hi":387.01,"lo2":373.28,"hi2":384.97,"obs":394.85},
      {"x":2012.25,"mean":382.38,"lo":371.29,"hi":388.72,"lo2":374.40,"hi2":386.50,"obs":396.25},
      {"x":2012.33,"mean":382.92,"lo":371.73,"hi":389.53,"lo2":374.86,"hi2":387.22,"obs":396.95},
      {"x":2012.42,"mean":382.31,"lo":371.02,"hi":388.71,"lo2":374.18,"hi2":386.47,"obs":396.45},
      {"x":2012.50,"mean":380.85,"lo":369.46,"hi":386.64,"lo2":372.65,"hi2":384.61,"obs":394.85},
      {"x":2012.58,"mean":378.83,"lo":367.34,"hi":383.78,"lo2":370.56,"hi2":382.05,"obs":392.55},
      {"x":2012.67,"mean":377.07,"lo":365.48,"hi":381.23,"lo2":368.73,"hi2":379.77,"obs":390.90},
      {"x":2012.75,"mean":376.95,"lo":365.25,"hi":381.08,"lo2":368.53,"hi2":379.63,"obs":391.05},
      {"x":2012.83,"mean":378.19,"lo":366.39,"hi":382.93,"lo2":369.69,"hi2":381.27,"obs":392.55},
      {"x":2012.92,"mean":379.37,"lo":367.47,"hi":384.65,"lo2":370.80,"hi2":382.80,"obs":393.75},
      {"x":2013.00,"mean":380.30,"lo":368.30,"hi":386.06,"lo2":371.66,"hi2":384.04,"obs":395.32},
      {"x":2013.08,"mean":381.01,"lo":368.90,"hi":387.12,"lo2":372.29,"hi2":384.98,"obs":396.42},
      {"x":2013.17,"mean":381.83,"lo":369.62,"hi":388.36,"lo2":373.04,"hi2":386.07,"obs":397.52},
      {"x":2013.25,"mean":383.02,"lo":370.70,"hi":390.13,"lo2":374.15,"hi2":387.64,"obs":398.92},
      {"x":2013.33,"mean":383.55,"lo":371.12,"hi":390.95,"lo2":374.60,"hi2":388.36,"obs":399.62},
      {"x":2013.42,"mean":382.94,"lo":370.41,"hi":390.11,"lo2":373.92,"hi2":387.60,"obs":399.12},
      {"x":2013.50,"mean":381.47,"lo":368.83,"hi":387.94,"lo2":372.37,"hi2":385.68,"obs":397.52},
      {"x":2013.58,"mean":379.45,"lo":366.70,"hi":384.98,"lo2":370.27,"hi2":383.04,"obs":395.22},
      {"x":2013.67,"mean":377.69,"lo":364.84,"hi":382.34,"lo2":368.44,"hi2":380.71,"obs":393.57},
      {"x":2013.75,"mean":377.56,"lo":364.60,"hi":382.18,"lo2":368.23,"hi2":380.56,"obs":393.72},
      {"x":2013.83,"mean":378.80,"lo":365.73,"hi":384.09,"lo2":369.39,"hi2":382.24,"obs":395.22},
      {"x":2013.92,"mean":379.97,"lo":366.80,"hi":385.86,"lo2":370.49,"hi2":383.80,"obs":396.42},
      {"x":2014.00,"mean":380.90,"lo":367.62,"hi":387.33,"lo2":371.34,"hi2":385.08,"obs":397.45},
      {"x":2014.08,"mean":381.61,"lo":368.22,"hi":388.42,"lo2":371.97,"hi2":386.04,"obs":398.55},
      {"x":2014.17,"mean":382.42,"lo":368.92,"hi":389.70,"lo2":372.70,"hi2":387.15,"obs":399.65},
      {"x":2014.25,"mean":383.61,"lo":369.99,"hi":391.53,"lo2":373.80,"hi2":388.76,"obs":401.05},
      {"x":2014.33,"mean":384.13,"lo":370.40,"hi":392.37,"lo2":374.24,"hi2":389.49,"obs":401.75},
      {"x":2014.42,"mean":383.52,"lo":369.68,"hi":391.50,"lo2":373.56,"hi2":388.71,"obs":401.25},
      {"x":2014.50,"mean":382.05,"lo":368.10,"hi":389.25,"lo2":372.01,"hi2":386.73,"obs":399.65},
      {"x":2014.58,"mean":380.02,"lo":365.96,"hi":386.17,"lo2":369.90,"hi2":384.02,"obs":397.35},
      {"x":2014.67,"mean":378.26,"lo":364.09,"hi":383.43,"lo2":368.06,"hi2":381.62,"obs":395.70},
      {"x":2014.75,"mean":378.12,"lo":363.83,"hi":383.25,"lo2":367.83,"hi2":381.45,"obs":395.85},
      {"x":2014.83,"mean":379.36,"lo":364.96,"hi":385.23,"lo2":368.99,"hi2":383.18,"obs":397.35},
      {"x":2014.92,"mean":380.52,"lo":366.01,"hi":387.06,"lo2":370.07,"hi2":384.77,"obs":398.55},
      {"x":2015.00,"mean":381.45,"lo":366.83,"hi":388.58,"lo2":370.92,"hi2":386.08,"obs":399.63},
      {"x":2015.08,"mean":382.15,"lo":367.41,"hi":389.70,"lo2":371.54,"hi2":387.06,"obs":400.73},
      {"x":2015.17,"mean":382.96,"lo":368.11,"hi":391.02,"lo2":372.27,"hi2":388.20,"obs":401.83},
      {"x":2015.25,"mean":384.15,"lo":369.18,"hi":392.92,"lo2":373.37,"hi2":389.85,"obs":403.23},
      {"x":2015.33,"mean":384.67,"lo":369.58,"hi":393.79,"lo2":373.81,"hi2":390.60,"obs":403.93},
      {"x":2015.42,"mean":384.05,"lo":368.85,"hi":392.88,"lo2":373.11,"hi2":389.79,"obs":403.43},
      {"x":2015.50,"mean":382.57,"lo":367.25,"hi":390.53,"lo2":371.54,"hi2":387.74,"obs":401.83},
      {"x":2015.58,"mean":380.54,"lo":365.10,"hi":387.34,"lo2":369.42,"hi2":384.96,"obs":399.53},
      {"x":2015.67,"mean":378.77,"lo":363.22,"hi":384.48,"lo2":367.57,"hi2":382.48,"obs":397.88},
      {"x":2015.75,"mean":378.64,"lo":362.97,"hi":384.30,"lo2":367.36,"hi2":382.32,"obs":398.03},
      {"x":2015.83,"mean":379.87,"lo":364.08,"hi":386.35,"lo2":368.50,"hi2":384.08,"obs":399.53},
      {"x":2015.92,"mean":381.03,"lo":365.13,"hi":388.25,"lo2":369.58,"hi2":385.72,"obs":400.73},
      {"x":2016.00,"mean":381.95,"lo":365.93,"hi":389.81,"lo2":370.42,"hi2":387.06,"obs":403.04},
      {"x":2016.08,"mean":382.65,"lo":366.51,"hi":390.97,"lo2":371.03,"hi2":388.06,"obs":404.14},
      {"x":2016.17,"mean":383.46,"lo":367.20,"hi":392.35,"lo2":371.75,"hi2":389.24,"obs":405.24},
      {"x":2016.25,"mean":384.63,"lo":368.24,"hi":394.30,"lo2":372.83,"hi2":390.92,"obs":406.64},
      {"x":2016.33,"mean":385.15,"lo":368.64,"hi":395.20,"lo2":373.26,"hi2":391.68,"obs":407.34},
      {"x":2016.42,"mean":384.53,"lo":367.90,"hi":394.25,"lo2":372.56,"hi2":390.85,"obs":406.84},
      {"x":2016.50,"mean":383.05,"lo":366.30,"hi":391.81,"lo2":370.99,"hi2":388.74,"obs":405.24},
      {"x":2016.58,"mean":381.01,"lo":364.14,"hi":388.49,"lo2":368.86,"hi2":385.87,"obs":402.94},
      {"x":2016.67,"mean":379.24,"lo":362.25,"hi":385.52,"lo2":367.01,"hi2":383.32,"obs":401.29},
      {"x":2016.75,"mean":379.10,"lo":361.98,"hi":385.33,"lo2":366.77,"hi2":383.15,"obs":401.44},
      {"x":2016.83,"mean":380.33,"lo":363.09,"hi":387.45,"lo2":367.92,"hi2":384.96,"obs":402.94},
      {"x":2016.92,"mean":381.48,"lo":364.12,"hi":389.41,"lo2":368.98,"hi2":386.63,"obs":404.14},
      {"x":2017.00,"mean":382.40,"lo":364.92,"hi":391.03,"lo2":369.81,"hi2":388.01,"obs":406.13}
    ]
  },
  "layer": [
    {
      "data": {"name": "gridx"},
      "mark": {"type": "rule", "color": "#ebebeb", "strokeWidth": 0.6},
      "encoding": {
        "x": {"field": "g", "type": "quantitative", "scale": {"domain": [1956.174, 2019.77], "nice": false, "zero": false}, "axis": null}
      }
    },
    {
      "data": {"name": "gridy"},
      "mark": {"type": "rule", "color": "#ebebeb", "strokeWidth": 0.6},
      "encoding": {
        "y": {"field": "g", "type": "quantitative", "scale": {"domain": [308.64, 412.28], "nice": false, "zero": false}, "axis": null}
      }
    },
    {
      "data": {"name": "fc"},
      "mark": {"type": "area", "color": "#d3d3db", "opacity": 1},
      "encoding": {
        "x": {"field": "x", "type": "quantitative", "scale": {"domain": [1956.174, 2019.77], "nice": false, "zero": false},
          "axis": {"values": [1960, 1980, 2000], "format": "d", "title": "x", "grid": true, "gridColor": "#ebebeb", "gridWidth": 1.2,
            "domain": true, "domainColor": "#333333", "domainWidth": 1.2, "ticks": true, "tickColor": "#333333", "tickSize": 3.5, "tickWidth": 1.1,
            "labelFont": "Liberation Sans", "labelFontSize": 14.4, "labelColor": "#4d4d4d", "labelPadding": 5, "labelFlush": false, "labelOverlap": false,
            "titleFont": "Liberation Sans", "titleFontSize": 18, "titleFontWeight": "normal", "titleColor": "#000000", "titlePadding": 3}},
        "y": {"field": "lo", "type": "quantitative", "scale": {"domain": [308.64, 412.28], "nice": false, "zero": false},
          "axis": {"values": [330, 360, 390], "format": "d", "title": "post_mean", "grid": true, "gridColor": "#ebebeb", "gridWidth": 1.2,
            "domain": true, "domainColor": "#333333", "domainWidth": 1.2, "ticks": true, "tickColor": "#333333", "tickSize": 3.5, "tickWidth": 1.1,
            "labelFont": "Liberation Sans", "labelFontSize": 14.4, "labelColor": "#4d4d4d", "labelPadding": 5, "labelFlush": false, "labelOverlap": false,
            "titleFont": "Liberation Sans", "titleFontSize": 18, "titleFontWeight": "normal", "titleColor": "#000000", "titlePadding": 7}},
        "y2": {"field": "hi"}
      }
    },
    {
      "data": {"name": "fc"},
      "mark": {"type": "area", "color": "#a4a6c8", "opacity": 1},
      "encoding": {
        "x": {"field": "x", "type": "quantitative", "scale": {"domain": [1956.174, 2019.77], "nice": false, "zero": false}, "axis": null},
        "y": {"field": "lo2", "type": "quantitative", "scale": {"domain": [308.64, 412.28], "nice": false, "zero": false}, "axis": null},
        "y2": {"field": "hi2"}
      }
    },
    {
      "data": {"name": "co2"},
      "mark": {"type": "line", "color": "#7f7f7f", "strokeWidth": 1.6},
      "encoding": {
        "x": {"field": "x", "type": "quantitative", "scale": {"domain": [1956.174, 2019.77], "nice": false, "zero": false}, "axis": null},
        "y": {"field": "v", "type": "quantitative", "scale": {"domain": [308.64, 412.28], "nice": false, "zero": false}, "axis": null}
      }
    },
    {
      "data": {"name": "fc"},
      "mark": {"type": "line", "color": "#0000ff", "strokeWidth": 2},
      "encoding": {
        "x": {"field": "x", "type": "quantitative", "scale": {"domain": [1956.174, 2019.77], "nice": false, "zero": false}, "axis": null},
        "y": {"field": "mean", "type": "quantitative", "scale": {"domain": [308.64, 412.28], "nice": false, "zero": false}, "axis": null}
      }
    },
    {
      "data": {"name": "fc"},
      "mark": {"type": "line", "color": "#ff0000", "opacity": 0.5, "strokeWidth": 1.9},
      "encoding": {
        "x": {"field": "x", "type": "quantitative", "scale": {"domain": [1956.174, 2019.77], "nice": false, "zero": false}, "axis": null},
        "y": {"field": "obs", "type": "quantitative", "scale": {"domain": [308.64, 412.28], "nice": false, "zero": false}, "axis": null}
      }
    },
    {
      "data": {"name": "ell"},
      "mark": {"type": "line", "color": "#000000", "strokeWidth": 3.3, "interpolate": "cardinal", "strokeCap": "round", "strokeJoin": "round"},
      "encoding": {
        "x": {"field": "x", "type": "quantitative", "scale": {"domain": [1956.174, 2019.77], "nice": false, "zero": false}, "axis": null},
        "y": {"field": "y", "type": "quantitative", "scale": {"domain": [308.64, 412.28], "nice": false, "zero": false}, "axis": null},
        "order": {"field": "o", "type": "quantitative"}
      }
    },
    {
      "data": {"values": [{}]},
      "mark": {"type": "rule", "color": "#333333", "strokeWidth": 1.2},
      "encoding": {
        "y": {"datum": 412.28, "type": "quantitative", "scale": {"domain": [308.64, 412.28], "nice": false, "zero": false}, "axis": null}
      }
    }
  ]
}
